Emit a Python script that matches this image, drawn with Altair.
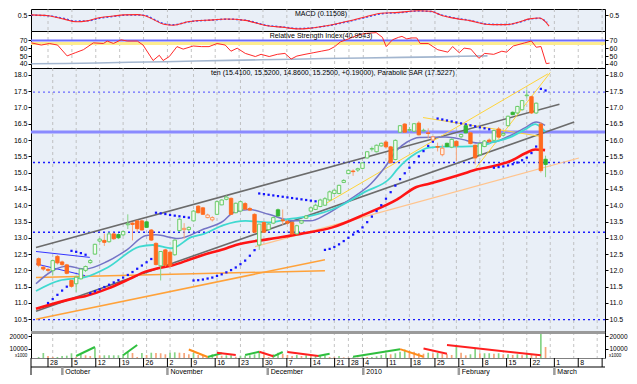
import altair as alt
import pandas as pd

FONT = "Liberation Sans"
W = 574
X_DOMAIN = [-3.56, 116.6]
BG = "#e9eff7"

# ---------------- daily prices (trading-day index, 0 = Mon 28 Sep 2009) ----------------
days = list(range(-3, 106))
opens = [12.36, 12.10, 12.03, 11.99, 12.43, 12.26, 12.17, 11.69, 11.59, 11.74,
         12.00, 12.24, 12.50, 12.90, 12.92, 12.88, 13.12, 13.10, 13.09, 13.40,
         13.45, 13.52, 13.52, 13.49, 13.24, 12.83, 12.14, 12.63, 12.56, 12.48,
         13.22, 13.25, 13.25, 13.52, 13.97, 13.92, 13.62, 13.55, 13.72, 14.01,
         14.18, 14.21, 13.77, 13.82, 14.05, 13.90, 13.72, 12.78, 13.47, 13.25,
         13.45, 13.86, 13.55, 13.50, 13.47, 13.12, 13.45, 13.60, 13.82, 13.87,
         13.96, 14.00, 14.16, 14.36, 14.36, 14.70, 14.97, 15.05, 15.08, 15.13,
         15.45, 15.72, 15.64, 15.82, 15.94, 15.79, 15.40, 16.24, 16.49, 16.30,
         16.27, 16.52, 16.28, 16.22, 16.00, 15.80, 15.55, 15.90, 15.78, 15.96,
         16.10, 16.44, 16.22, 15.84, 15.55, 15.80, 16.00, 15.99, 16.34, 16.15,
         16.44, 16.85, 16.83, 16.93, 17.36, 17.33, 16.83, 16.49, 15.41]
highs = [12.40, 12.14, 12.08, 12.33, 12.47, 12.30, 12.20, 11.74, 11.84, 12.06,
         12.15, 12.35, 12.82, 13.00, 13.13, 13.18, 13.16, 13.14, 13.22, 13.72,
         13.48, 13.55, 13.56, 13.52, 13.27, 12.86, 12.58, 12.66, 12.60, 12.95,
         13.60, 13.45, 13.35, 13.85, 14.00, 13.95, 13.74, 13.66, 14.14, 14.18,
         14.30, 14.24, 14.08, 14.13, 14.10, 13.95, 13.75, 13.42, 13.50, 13.45,
         13.65, 13.90, 13.87, 13.55, 13.50, 13.40, 13.55, 13.70, 13.95, 14.05,
         14.20, 14.25, 14.45, 14.48, 14.63, 14.80, 15.10, 15.10, 15.15, 15.32,
         15.66, 15.80, 15.86, 15.92, 15.98, 15.82, 16.02, 16.46, 16.52, 16.40,
         16.52, 16.58, 16.35, 16.36, 16.12, 15.92, 15.86, 15.92, 16.05, 15.98,
         16.20, 16.47, 16.25, 15.86, 15.92, 16.00, 16.05, 16.32, 16.40, 16.25,
         16.75, 16.88, 17.05, 17.23, 17.55, 17.36, 17.15, 16.55, 15.52]
lows = [12.10, 11.98, 11.93, 11.84, 12.18, 12.12, 11.88, 11.47, 11.34, 11.72,
        11.95, 12.20, 12.48, 12.86, 12.75, 12.85, 12.94, 12.96, 13.05, 13.27,
        12.92, 13.18, 13.22, 13.30, 12.90, 12.15, 11.69, 12.12, 12.10, 12.45,
        13.20, 12.97, 13.20, 13.50, 13.75, 13.70, 13.60, 13.50, 13.70, 14.00,
        14.15, 13.70, 13.75, 13.80, 13.85, 13.82, 13.15, 12.63, 13.15, 13.22,
        13.42, 13.65, 13.40, 13.40, 13.10, 13.10, 13.42, 13.58, 13.80, 13.85,
        13.94, 13.98, 14.14, 14.34, 14.34, 14.68, 14.95, 14.90, 15.02, 15.10,
        15.43, 15.65, 15.62, 15.80, 15.76, 15.28, 15.38, 16.22, 16.22, 16.25,
        16.25, 16.14, 16.25, 16.05, 15.98, 15.65, 15.50, 15.78, 15.75, 15.35,
        16.05, 16.20, 15.87, 15.25, 15.50, 15.78, 15.90, 15.97, 16.07, 16.12,
        16.42, 16.76, 16.80, 16.90, 17.28, 16.80, 16.80, 15.00, 14.86]
closes = [12.16, 12.04, 12.00, 12.30, 12.23, 12.18, 11.91, 11.51, 11.79, 12.04,
          12.12, 12.30, 12.80, 12.96, 12.86, 13.12, 12.97, 13.00, 13.19, 13.43,
          13.41, 13.28, 13.24, 13.32, 12.93, 12.18, 12.58, 12.16, 12.14, 12.93,
          13.57, 13.29, 13.32, 13.82, 13.77, 13.72, 13.70, 13.62, 14.11, 14.16,
          14.25, 13.72, 14.06, 14.11, 13.88, 13.85, 13.17, 13.42, 13.17, 13.42,
          13.62, 13.67, 13.52, 13.45, 13.12, 13.37, 13.52, 13.67, 13.92, 14.00,
          14.16, 14.20, 14.41, 14.46, 14.61, 14.76, 15.07, 15.03, 15.12, 15.30,
          15.64, 15.74, 15.84, 15.90, 15.79, 15.30, 15.99, 16.44, 16.24, 16.32,
          16.50, 16.16, 16.30, 16.20, 16.10, 15.78, 15.75, 15.80, 16.02, 15.82,
          16.17, 16.22, 15.89, 15.45, 15.89, 15.97, 15.95, 16.29, 16.09, 16.20,
          16.73, 16.78, 17.03, 17.21, 17.38, 16.83, 17.13, 15.06, 15.25]
volumes = [3500, 6600, 4250, 3500, 3500, 4250, 4500, 6400, 3500, 5600,
           4800, 4250, 10800, 4800, 4800, 4800, 4800, 4800, 5600, 7650,
           6600, 3500, 6600, 5050, 6850, 6600, 6400, 5600, 6850, 7150,
           6850, 6600, 5600, 6600, 5050, 4500, 4000, 5600, 4800, 4500,
           4800, 4800, 3700, 4500, 4500, 4800, 5600, 6600, 5600, 3500,
           5600, 6850, 6050, 5050, 4250, 5050, 4250, 4800, 4250, 4250,
           4250, 4800, 3500, 3300, 4250, 3200, 3000, 3200, 3000, 3700,
           3500, 3500, 4000, 5050, 6400, 5600, 6400, 7650, 9350, 8100,
           7650, 6600, 6050, 6850, 6400, 6600, 5800, 5600, 5050, 12100,
           6850, 4800, 5600, 10000, 6400, 6400, 6400, 6050, 6400, 5600,
           5600, 5050, 5600, 4800, 6050, 5600, 4500, 22100, 11350]

# ---------------- axis labels ----------------
tick_days = [0, 5, 10, 15, 20, 25, 30, 35, 40, 45, 50, 55, 60, 63, 66, 71, 76, 81, 86, 91, 96, 101, 106, 111, 116]
tick_labels = ["28", "5", "12", "19", "26", "2", "9", "16", "23", "30", "7", "14", "21", "28",
               "4", "11", "18", "25", "1", "8", "15", "22", "1", "8", ""]
month_days = [3, 25, 46, 66, 86, 106]
month_labels = ["October", "November", "December", "2010", "February", "March"]
main_ticks = [10.5, 11.0, 11.5, 12.0, 12.5, 13.0, 13.5, 14.0, 14.5, 15.0, 15.5, 16.0, 16.5, 17.0, 17.5, 18.0]
rsi_ticks = [40, 50, 60, 70]
macd_ticks = [0.5]
vol_ticks = [10000, 20000]

main_title = "ten (15.4100, 15.5200, 14.8600, 15.2500, +0.19000), Parabolic SAR (17.5227)"
macd_title = "MACD (0.11508)"
rsi_title = "Relative Strength Index(40.9543)"

# ---------------- moving averages ----------------
ma_fast_days = [-3.56, -0.06, 3.0, 6.9, 11.7, 15.8, 19.9, 22.0, 26.7, 32.2, 36.4, 38.4, 41.9, 46.0, 51.4,
                54.9, 58.3, 63.1, 67.8, 70.7, 73.4, 75.5, 78.1, 83.7, 87.2, 90.5, 94.0, 97.5, 100.8, 103.0, 104.9]
ma_fast_vals = [11.59, 11.99, 12.13, 12.04, 12.28, 12.63, 13.07, 13.09, 12.98, 13.27, 13.52, 13.77, 13.87, 13.72, 13.52,
                13.52, 13.72, 14.16, 14.66, 15.15, 15.70, 15.94, 16.08, 16.09, 16.02, 15.91, 15.94, 16.14, 16.39, 16.55, 16.45]
ma_mid_days = [-3.56, 1.4, 6.9, 11.7, 18.5, 21.3, 25.4, 29.5, 32.2, 36.4, 41.1, 46.0, 50.1, 54.9, 61.0, 66.5, 72.0,
               73.4, 77.5, 80.2, 83.7, 87.2, 90.5, 94.0, 97.5, 100.8, 102.8, 104.9]
ma_mid_vals = [11.37, 11.69, 11.79, 12.09, 12.73, 12.78, 12.68, 13.02, 13.12, 13.39, 13.52, 13.47, 13.57, 13.67, 13.96, 14.41, 14.85,
               15.10, 15.60, 15.77, 15.80, 15.80, 15.81, 15.94, 16.09, 16.34, 16.49, 16.26]
ma_slow_days = [-3.56, 4.8, 6.9, 11.7, 16.4, 19.9, 22.0, 25.4, 29.5, 32.2, 36.4, 39.0, 46.0, 52.8, 59.6, 66.5,
                73.4, 77.5, 80.2, 87.1, 90.5, 94.0, 97.4, 100.8, 102.8, 104.9]
ma_slow_vals = [10.82, 11.15, 11.21, 11.44, 11.74, 11.97, 12.05, 12.15, 12.35, 12.48, 12.65, 12.78, 12.96, 13.12, 13.32, 13.72,
                14.18, 14.56, 14.66, 14.95, 15.10, 15.20, 15.35, 15.60, 15.71, 15.69]

# ---------------- parabolic SAR ----------------
sar_days = list(range(-1, 106))
sar_vals = [11.00, 11.12, 11.25, 11.38, 11.50,
            12.60, 12.57, 12.53, 12.48,
            11.30, 11.36, 11.42, 11.49, 11.56, 11.63, 11.70, 11.78, 11.86, 11.95, 12.05, 12.15, 12.25, 12.35,
            13.77, 13.75, 13.73, 13.70, 13.68, 13.66, 13.64, 13.62,
            11.69, 11.70, 11.72, 11.75, 11.78, 11.83, 11.88, 11.94, 12.01, 12.09, 12.19, 12.30, 12.45, 12.62,
            14.36, 14.34, 14.32, 14.30, 14.28, 14.26, 14.24, 14.22, 14.20, 14.18, 14.16, 14.14, 14.12, 14.11,
            12.63, 12.66, 12.72, 12.80, 12.90, 13.00, 13.10, 13.20, 13.32, 13.48, 13.65, 13.82, 14.00, 14.20,
            14.40, 14.60, 14.80, 14.98, 15.15, 15.32, 15.50, 15.66, 15.82, 15.95,
            16.66, 16.63, 16.60, 16.57, 16.54, 16.51, 16.48, 16.45, 16.42, 16.39, 16.36, 16.33,
            15.15, 15.17, 15.19, 15.22, 15.26, 15.31, 15.38, 15.46, 15.60, 15.80,
            17.57, 17.52]

# ---------------- drawn trend lines (name, day1, price1, day2, price2) ----------------
seg_names = ["channel", "channel", "base", "longbase", "pullback", "fan", "fan", "fan", "early", "early"]
seg_d1 = [-3.56, -3.56, -3.56, -3.56, 43.1, 78.9, 58.3, 90.2, -3.56, -3.56]
seg_v1 = [12.70, 10.75, 11.78, 10.50, 12.73, 16.69, 14.06, 15.15, 12.58, 12.20]
seg_d2 = [107.96, 111.1, 58.0, 58.0, 112.1, 103.6, 105.5, 106.0, 7.9, 6.9]
seg_v2 = [17.10, 16.55, 11.99, 12.33, 15.45, 16.12, 18.03, 18.07, 12.40, 11.84]

level_dotted = [15.31, 13.17, 10.49]
level_dotted_light = [17.47]
level_solid = [16.25]

# ---------------- MACD ----------------
macd_days = [-3.5, 0, 3.4, 5.8, 8.2, 11, 13.7, 15.8, 18.7, 19.9, 24.5, 26.2, 29.6, 34.6, 37.1, 41.3, 45.5, 49.6, 52.1,
             54.6, 58, 62.2, 66.4, 69.7, 73.4, 77.5, 80.2, 82.3, 85.8, 88.5, 91.2, 93, 96, 98.8, 100.8, 102.9, 104.9]
macd_vals = [0.51, 0.48, 0.36, 0.27, 0.30, 0.42, 0.47, 0.51, 0.52, 0.50, 0.17, 0.145, 0.276, 0.336, 0.367, 0.318, 0.136,
             0.064, 0.015, 0.033, 0.115, 0.267, 0.439, 0.57, 0.60, 0.66, 0.64, 0.50, 0.37, 0.30, 0.19, 0.165, 0.165,
             0.27, 0.37, 0.40, 0.115]
signal_days = [-3.5, 0, 3.4, 5.8, 8.2, 11, 13.7, 15.8, 18.7, 19.9, 24.5, 26.2, 29.6, 34.6, 37.1, 41.3, 45.5, 49.6, 52.1,
               54.6, 58, 62.2, 66.4, 69.7, 73.4, 77.5, 80.2, 82.3, 85.8, 88.5, 91.2, 93, 96, 98.8, 100.8, 102.9, 104.5]
signal_vals = [0.50, 0.48, 0.38, 0.29, 0.30, 0.40, 0.46, 0.50, 0.51, 0.50, 0.19, 0.16, 0.27, 0.33, 0.36, 0.32, 0.15,
               0.075, 0.03, 0.04, 0.11, 0.25, 0.42, 0.55, 0.59, 0.65, 0.63, 0.51, 0.38, 0.31, 0.20, 0.175, 0.17,
               0.26, 0.36, 0.39, 0.24]

# ---------------- RSI ----------------
rsi_days = [-3.5, -1.4, 0.3, 2, 4, 5.7, 7.4, 9.5, 11.6, 12.4, 13.7, 15.3, 16.6, 18.7, 19.9, 22, 23.3, 24.1, 25.4, 27,
            28.3, 30.4, 32.1, 33.7, 35.4, 37.1, 38.3, 39.6, 41.3, 43.4, 44.6, 46.3, 48, 49.6, 50.9, 52.1, 53.8, 55.5,
            57.2, 58.8, 60.0, 61.2, 62.9, 64.5, 66.2, 68.7, 70.0, 70.8, 72.1, 73.4, 74.1, 75.1, 76.1, 77.2, 77.9,
            79.6, 81.6, 83.7, 84.7, 86.1, 87.1, 88.5, 90.2, 91.4, 93.3, 95.0, 96.0, 97.4, 99.8, 101.2, 102.2, 103.2,
            104.3, 105]
rsi_vals = [66.9, 64.1, 66.1, 64.1, 50.2, 54.2, 58.1, 66.9, 66.1, 69.2, 66.1, 70.8, 69.2, 69.2, 64.1, 44.3, 51, 44.3, 49.4,
            62.1, 58.9, 62.9, 62.1, 62.1, 66.1, 64.1, 56.2, 60.1, 53.4, 49.4, 52.2, 49.4, 52.2, 53.4, 46.2, 50, 52.2,
            54.2, 56.2, 58.1, 62.0, 68.1, 72.0, 76.0, 78.8, 80.0, 74.0, 62.1, 70.8, 74.0, 75.2, 72.0, 73.2, 73.2, 66.1,
            66.1, 58.1, 55.0, 62.2, 54.2, 60.2, 59.0, 47.1, 53.4, 52.2, 56.2, 55.0, 62.9, 66.9, 69.3, 61.3, 62.2,
            40.3, 41.0]
rsi_base_days = [-3.5, 3.6, 10.3, 17, 24.5, 31, 38, 44.6, 51.2, 57.8, 66, 74, 82, 86.5, 92]
rsi_base_vals = [40.2, 40.4, 41.2, 42.0, 42.8, 43.6, 44.5, 45.2, 46.0, 46.8, 47.5, 48.3, 49.0, 49.8, 50.2]
rsi_upper = [70]
rsi_band = [66.2]

# ---------------- volume trend lines ----------------
vseg_names = ["rise", "rise", "turn", "rise", "fall", "rise", "fall", "rise", "fall", "rise", "rise", "turn", "fall", "fall"]
vseg_d1 = [5, 15, 29, 33, 35, 41, 44, 47, 50, 56.5, 64, 74, 79, 84]
vseg_v1 = [4250, 4800, 9350, 3450, 6850, 5050, 7650, 4000, 7400, 4250, 3700, 9650, 10150, 12900]
vseg_d2 = [9, 18, 33, 36, 39, 44, 47, 49, 56.6, 59, 74, 79, 84, 104]
vseg_v2 = [11350, 12900, 3450, 6400, 5050, 7650, 4000, 7400, 4250, 6050, 9650, 3700, 6050, 4800]

# ======================= build tables =======================
cdf = pd.DataFrame({"day": days, "open": opens, "high": highs, "low": lows, "close": closes, "volume": volumes})
prev_close = cdf["close"].shift(1).fillna(cdf["open"])
cdf["trend"] = (cdf["close"] >= prev_close).map({True: "up", False: "down"})
cdf["body"] = cdf["trend"] + "_" + (cdf["close"] < cdf["open"]).map({True: "filled", False: "hollow"})
cdf["vdir"] = (cdf["volume"] >= cdf["volume"].shift(1).fillna(0)).map({True: "more", False: "less"})

tick_df = pd.DataFrame({"day": tick_days, "label": tick_labels})
month_df = pd.DataFrame({"day": month_days, "label": month_labels})
seg_df = pd.DataFrame({"name": seg_names, "d1": seg_d1, "v1": seg_v1, "d2": seg_d2, "v2": seg_v2})
vseg_df = pd.DataFrame({"name": vseg_names, "d1": vseg_d1, "v1": vseg_v1, "d2": vseg_d2, "v2": vseg_v2})
one = pd.DataFrame({"k": [0]})


def xenc(field="day"):
    return alt.X(f"{field}:Q", scale=alt.Scale(domain=X_DOMAIN, nice=False, zero=False), axis=None)


def grid():
    return alt.Chart(tick_df).mark_rule(color="#b5b5b5", strokeDash=[3, 3], strokeWidth=0.8).encode(x=xenc())


def yaxes(vals, scale, fmt, size=7):
    df = pd.DataFrame({"v": vals})
    out = []
    for orient in ["left", "right"]:
        out.append(alt.Chart(df).mark_point(opacity=0).encode(
            y=alt.Y("v:Q", scale=scale, axis=alt.Axis(orient=orient, values=vals, format=fmt,
                                                      labelFontSize=size, title=None))))
    return out


def line(dlist, vlist, scale, color, width, dash=None, interp="monotone"):
    df = pd.DataFrame({"day": dlist, "v": vlist})
    kw = dict(color=color, strokeWidth=width, interpolate=interp, clip=True)
    if dash:
        kw["strokeDash"] = dash
    return alt.Chart(df).mark_line(**kw).encode(x=xenc(), y=alt.Y("v:Q", scale=scale, axis=None))


def label(text, xpx, ypx, align="center", size=7):
    return alt.Chart(pd.DataFrame({"t": [text]})).mark_text(
        align=align, baseline="middle", fontSize=size, color="black").encode(
        text="t:N", x=alt.value(xpx), y=alt.value(ypx))


# ---------------- MACD panel ----------------
Y_MACD = alt.Scale(domain=[-0.06, 0.72], nice=False, zero=False)
macd = alt.layer(
    grid(),
    line(signal_days, signal_vals, Y_MACD, "#2f4cff", 1.5, dash=[2, 2]),
    line(macd_days, macd_vals, Y_MACD, "#ff2a2a", 1.1),
    label(macd_title, 290, 5),
    *yaxes(macd_ticks, Y_MACD, ".1f"),
).resolve_axis(y="independent").properties(
    width=W, height=22, view=alt.ViewBackground(fill=BG, stroke="black", strokeWidth=1))

# ---------------- RSI panel ----------------
Y_RSI = alt.Scale(domain=[34.7, 82.1], nice=False, zero=False)
rsi = alt.layer(
    grid(),
    alt.Chart(pd.DataFrame({"v": rsi_band})).mark_rule(color="#fdec8e", strokeWidth=3).encode(
        y=alt.Y("v:Q", scale=Y_RSI, axis=None)),
    alt.Chart(pd.DataFrame({"v": rsi_upper})).mark_rule(color="#6d6dff", strokeWidth=2).encode(
        y=alt.Y("v:Q", scale=Y_RSI, axis=None)),
    line(rsi_base_days, rsi_base_vals, Y_RSI, "#a3b6cf", 1.6, interp="linear"),
    line(rsi_days, rsi_vals, Y_RSI, "#ff2a2a", 1.0, interp="linear"),
    label(rsi_title, 290, 4.5),
    *yaxes(rsi_ticks, Y_RSI, "d"),
).resolve_axis(y="independent").properties(
    width=W, height=37, view=alt.ViewBackground(fill="white", stroke="black", strokeWidth=1))

# ---------------- main price panel ----------------
Y_MAIN = alt.Scale(domain=[10.11, 18.21], nice=False, zero=False)
seg_styles = {
    "channel": ("#6b6b6b", 1.6),
    "base": ("#ffa23a", 1.5),
    "longbase": ("#ffa23a", 1.5),
    "pullback": ("#ffc48e", 1.2),
    "fan": ("#ffd43a", 1.0),
    "early": ("#3434ff", 1.0),
}
main_layers = [
    grid(),
    alt.Chart(pd.DataFrame({"v": level_solid})).mark_rule(color="#8a8aff", strokeWidth=3).encode(
        y=alt.Y("v:Q", scale=Y_MAIN, axis=None)),
    alt.Chart(pd.DataFrame({"v": level_dotted_light})).mark_rule(
        color="#6a6aff", strokeDash=[2, 3], strokeWidth=1.4).encode(y=alt.Y("v:Q", scale=Y_MAIN, axis=None)),
    alt.Chart(pd.DataFrame({"v": level_dotted})).mark_rule(
        color="#1a1aff", strokeDash=[2, 3], strokeWidth=1.4).encode(y=alt.Y("v:Q", scale=Y_MAIN, axis=None)),
]
for name, (col, w) in seg_styles.items():
    main_layers.append(
        alt.Chart(seg_df[seg_df["name"] == name]).mark_rule(color=col, strokeWidth=w, clip=True).encode(
            x=xenc("d1"), x2="d2:Q", y=alt.Y("v1:Q", scale=Y_MAIN, axis=None), y2="v2:Q"))
main_layers += [
    line(ma_fast_days, ma_fast_vals, Y_MAIN, "#7474c6", 1.5),
    line(ma_mid_days, ma_mid_vals, Y_MAIN, "#3fd9d0", 1.8),
    line(ma_slow_days, ma_slow_vals, Y_MAIN, "#ff1414", 2.6),
    alt.Chart(pd.DataFrame({"day": sar_days, "v": sar_vals})).mark_square(
        size=5, color="#1414ff", opacity=1).encode(x=xenc(), y=alt.Y("v:Q", scale=Y_MAIN, axis=None)),
    alt.Chart(cdf).mark_rule(strokeWidth=1).encode(
        x=xenc(), y=alt.Y("low:Q", scale=Y_MAIN, axis=None), y2="high:Q",
        color=alt.Color("trend:N", scale=alt.Scale(domain=["up", "down"], range=["#86d486", "#f6a57a"]), legend=None)),
    alt.Chart(cdf).mark_bar(size=3.4, strokeWidth=0.9).encode(
        x=xenc(), y=alt.Y("open:Q", scale=Y_MAIN, axis=None), y2="close:Q",
        fill=alt.Fill("body:N", scale=alt.Scale(
            domain=["up_hollow", "up_filled", "down_hollow", "down_filled"],
            range=["#f2faf2", "#33b533", "#fdf0e8", "#ff6a1e"]), legend=None),
        stroke=alt.Stroke("body:N", scale=alt.Scale(
            domain=["up_hollow", "up_filled", "down_hollow", "down_filled"],
            range=["#5cc85c", "#33b533", "#ff8a4a", "#ff6a1e"]), legend=None)),
    label(main_title, 180, 5, align="left"),
]
main = alt.layer(*main_layers, *yaxes(main_ticks, Y_MAIN, ".1f")).resolve_axis(y="independent").properties(
    width=W, height=264, view=alt.ViewBackground(fill=BG, stroke="black", strokeWidth=1))

# ---------------- volume panel ----------------
Y_VOL = alt.Scale(domain=[2677, 23150], nice=False, zero=False)
vseg_styles = {"rise": "#2fbf3f", "fall": "#ff2020", "turn": "#ff8c1a"}
vol_layers = [
    grid(),
    alt.Chart(cdf).mark_bar(size=1.7, clip=True).encode(
        x=xenc(), y=alt.Y("volume:Q", scale=Y_VOL, axis=None),
        color=alt.Color("vdir:N", scale=alt.Scale(domain=["more", "less"], range=["#2b2bff", "#a6a6f2"]), legend=None)),
]
for name, col in vseg_styles.items():
    vol_layers.append(
        alt.Chart(vseg_df[vseg_df["name"] == name]).mark_rule(color=col, strokeWidth=2, clip=True).encode(
            x=xenc("d1"), x2="d2:Q", y=alt.Y("v1:Q", scale=Y_VOL, axis=None), y2="v2:Q"))
vol_layers += [
    alt.Chart(one).mark_rule(color="#9a9a9a", strokeWidth=3).encode(
        x=alt.value(0), x2=alt.value(W), y=alt.value(0.5)),
    label("x1000", -10, 23.5, size=4.5),
    label("x1000", W + 10, 23.5, size=4.5),
]
vol = alt.layer(*vol_layers, *yaxes(vol_ticks, Y_VOL, "d", size=6.5)).resolve_axis(y="independent").properties(
    width=W, height=26, view=alt.ViewBackground(fill="white", stroke="black", strokeWidth=1))

# ---------------- date axis panel ----------------
bottom = alt.layer(
    alt.Chart(one).mark_rule(color="black", strokeWidth=1).encode(x=alt.value(0), x2=alt.value(W), y=alt.value(9)),
    alt.Chart(one).mark_rule(color="black", strokeWidth=1).encode(x=alt.value(0), y=alt.value(0), y2=alt.value(17)),
    alt.Chart(tick_df).mark_rule(color="black", strokeWidth=1).encode(x=xenc(), y=alt.value(0), y2=alt.value(9)),
    alt.Chart(tick_df).mark_text(align="left", baseline="middle", dx=2, fontSize=7, color="black").encode(
        x=xenc(), y=alt.value(5), text="label:N"),
    alt.Chart(month_df).mark_rule(color="#9c9c9c", strokeWidth=2.5).encode(
        x=xenc(), y=alt.value(9), y2=alt.value(17)),
    alt.Chart(month_df).mark_text(align="left", baseline="middle", dx=3, fontSize=7, color="black").encode(
        x=xenc(), y=alt.value(13.5), text="label:N"),
).properties(width=W, height=17, view=alt.ViewBackground(fill="white", stroke="transparent"))

chart = alt.vconcat(macd, rsi, main, vol, bottom, spacing=0, bounds="flush").properties(
    padding=0, background="white"
).configure_axis(
    labelFont=FONT, labelColor="black", tickColor="black", domain=False, grid=False,
    tickSize=3, labelPadding=1, minExtent=0, maxExtent=30
).configure_text(font=FONT)

chart.save("out.html", embed_options={"renderer": "svg", "actions": False})
